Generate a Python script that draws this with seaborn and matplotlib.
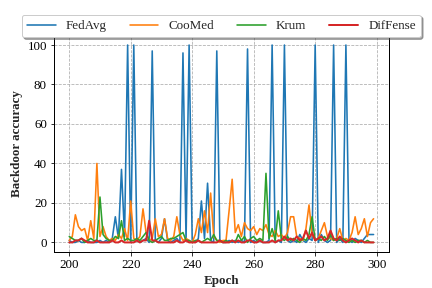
import numpy as np
import pandas as pd
import matplotlib
matplotlib.use("Agg")
import matplotlib.pyplot as plt
import seaborn as sns

epochs = list(range(200, 300))

fedavg = [1, 0, 0, 1, 0, 0, 1, 0, 0, 0,
          1, 0, 1, 0, 2, 13, 2, 37, 3, 100,
          0, 100, 1, 0, 1, 2, 0, 97, 1, 0,
          2, 12, 1, 0, 1, 2, 0, 96, 1, 100,
          1, 0, 2, 21, 2, 30, 1, 0, 97, 1,
          0, 0, 1, 0, 1, 0, 1, 0, 98, 0,
          1, 0, 1, 0, 0, 1, 100, 0, 1, 0,
          100, 1, 0, 1, 0, 4, 1, 0, 2, 1,
          100, 0, 4, 1, 0, 1, 100, 0, 2, 0,
          100, 1, 0, 2, 1, 0, 2, 4, 4, 4]

coomed = [1, 3, 14, 8, 6, 7, 1, 11, 2, 40,
          3, 8, 3, 1, 2, 1, 4, 2, 7, 1,
          21, 2, 1, 3, 17, 5, 1, 2, 12, 3,
          4, 12, 2, 1, 3, 13, 4, 1, 2, 1,
          0, 4, 12, 5, 16, 5, 25, 3, 1, 0,
          1, 1, 16, 32, 5, 9, 3, 10, 7, 6,
          8, 4, 7, 6, 9, 4, 3, 6, 3, 4,
          2, 5, 13, 13, 3, 2, 1, 7, 19, 4,
          1, 2, 6, 10, 3, 2, 1, 2, 7, 1,
          2, 1, 5, 13, 4, 7, 12, 3, 10, 12]

krum = [3, 2, 1, 1, 2, 0, 1, 2, 1, 1,
        23, 4, 2, 1, 1, 3, 2, 11, 1, 2,
        1, 1, 2, 1, 3, 5, 1, 0, 1, 2,
        3, 1, 1, 2, 2, 3, 4, 5, 1, 1,
        0, 1, 1, 0, 1, 2, 1, 4, 1, 1,
        0, 1, 0, 1, 0, 4, 1, 3, 0, 2,
        3, 1, 2, 1, 35, 2, 7, 1, 16, 2,
        1, 3, 1, 2, 1, 0, 2, 1, 4, 13,
        1, 2, 1, 3, 1, 4, 1, 2, 1, 2,
        1, 0, 1, 0, 1, 1, 0, 1, 0, 0]

diffense = [0, 0, 1, 1, 2, 1, 0, 0, 0, 1,
            0, 0, 0, 0, 1, 0, 0, 1, 0, 0,
            0, 0, 1, 0, 1, 1, 11, 1, 1, 0,
            0, 0, 0, 0, 0, 1, 0, 0, 1, 0,
            0, 0, 1, 0, 0, 0, 0, 0, 0, 1,
            0, 0, 0, 1, 0, 1, 0, 0, 1, 1,
            0, 0, 1, 0, 0, 0, 1, 0, 1, 1,
            3, 1, 2, 1, 3, 1, 2, 6, 2, 5,
            1, 2, 3, 1, 2, 6, 2, 1, 3, 1,
            0, 1, 2, 1, 0, 1, 0, 0, 0, 0]

series = {"FedAvg": fedavg, "CooMed": coomed, "Krum": krum, "DifFense": diffense}
colors = {"FedAvg": "#1f77b4", "CooMed": "#ff7f0e", "Krum": "#2ca02c", "DifFense": "#d62728"}
widths = {"FedAvg": 1.6, "CooMed": 1.6, "Krum": 1.6, "DifFense": 2.0}

sns.set_style("ticks")
plt.rcParams["font.family"] = ["Liberation Serif", "DejaVu Serif"]
plt.rcParams["font.size"] = 13

fig = plt.figure(figsize=(6, 4), dpi=72)
ax = fig.add_axes([0.125, 0.124, 0.775, 0.754])

for name, vals in series.items():
    df = pd.DataFrame({"Epoch": epochs, "acc": vals})
    sns.lineplot(data=df, x="Epoch", y="acc", ax=ax, label=name,
                 color=colors[name], linewidth=widths[name])

ax.grid(True, linestyle="--", color="#b0b0b0", linewidth=0.8)
ax.set_xlabel("Epoch", fontweight="bold", fontsize=13)
ax.set_ylabel("Backdoor accuracy", fontweight="bold", fontsize=13)
ax.set_xticks([200, 220, 240, 260, 280, 300])
ax.set_yticks([0, 20, 40, 60, 80, 100])
ax.tick_params(labelsize=13, colors="black")
for s in ax.spines.values():
    s.set_color("black")
    s.set_linewidth(1.0)

ax.legend(loc="lower center", bbox_to_anchor=(0.5, 0.99), ncol=4,
          frameon=True, shadow=True, fancybox=True, fontsize=13,
          handlelength=2.2, columnspacing=1.75, borderaxespad=0)

fig.savefig("out.png", dpi=72)
